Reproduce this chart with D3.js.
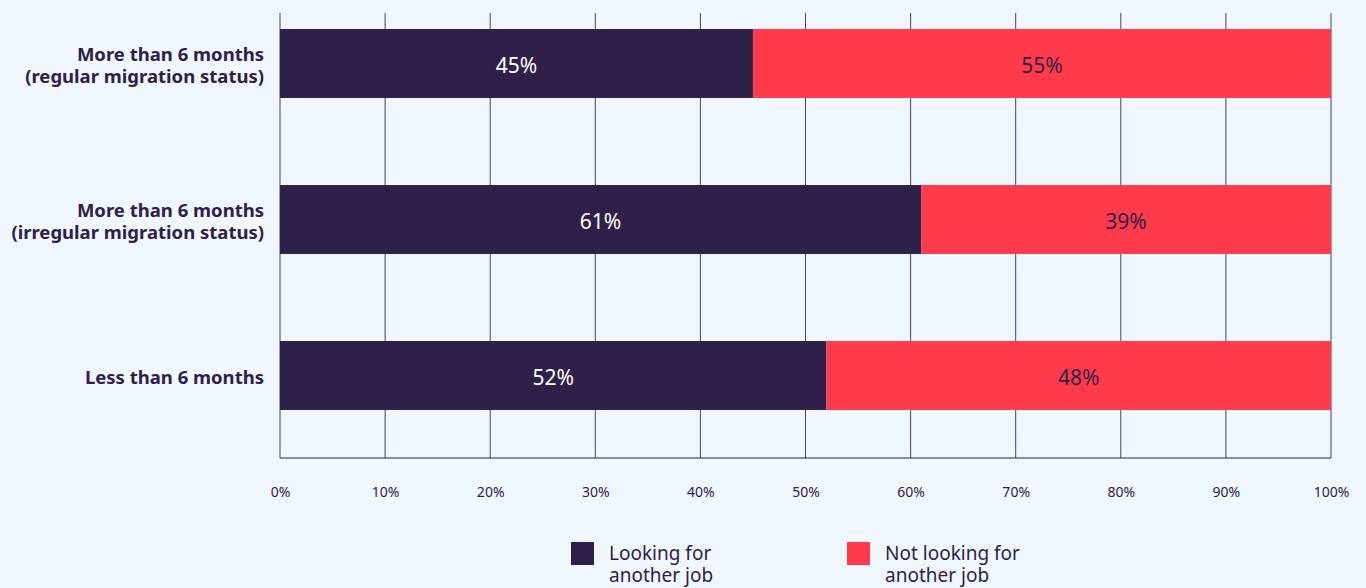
<!DOCTYPE html>
<html>
<head>
<meta charset="utf-8">
<script src="https://cdn.jsdelivr.net/npm/d3@7"></script>
<style>
  html, body { margin: 0; padding: 0; background: #f0f7fe; }
  svg { display: block; font-family: "Noto Sans", sans-serif; }
</style>
</head>
<body>
<svg id="chart" width="1366" height="588"></svg>
<script>
// Duration of stay groups, top to bottom
const categories = [
  ["More than 6 months", "(regular migration status)"],
  ["More than 6 months", "(irregular migration status)"],
  ["Less than 6 months"]
];
const lookingShare = [45, 61, 52];
const notLookingShare = [55, 39, 48];
const seriesNames = [["Looking for", "another job"], ["Not looking for", "another job"]];
const tickValues = [0, 10, 20, 30, 40, 50, 60, 70, 80, 90, 100];

const colors = ["#2f2049", "#ff3b4b"];
const labelColors = ["#ffffff", "#2f2049"];
const ink = "#2f2049";

const svg = d3.select("#chart");
const left = 280, right = 1331, gridTop = 13, gridBottom = 458;

const x = d3.scaleLinear().domain([0, 100]).range([left, right]);
const y = d3.scaleBand()
  .domain(d3.range(categories.length))
  .range([-14.5, 453.5])
  .paddingInner(0.558)
  .paddingOuter(0.279);

// vertical grid lines
svg.append("g").selectAll("line")
  .data(tickValues)
  .join("line")
  .attr("x1", d => x(d)).attr("x2", d => x(d))
  .attr("y1", gridTop).attr("y2", gridBottom)
  .attr("stroke", ink).attr("stroke-opacity", 0.85).attr("stroke-width", 1);

// baseline
svg.append("line")
  .attr("x1", left).attr("x2", right)
  .attr("y1", gridBottom).attr("y2", gridBottom)
  .attr("stroke", ink).attr("stroke-width", 1.2);

// x axis tick labels
const xAxis = d3.axisBottom(x).tickValues(tickValues).tickFormat(d => d + "%").tickSize(0).tickPadding(0);
const gx = svg.append("g").attr("transform", `translate(0,${gridBottom + 39})`).call(xAxis);
gx.select(".domain").remove();
gx.selectAll("text").attr("font-size", 14).attr("fill", ink)
  .attr("font-family", "'Noto Sans', sans-serif").attr("dy", 0);

// stacked bars
const rows = categories.map((c, i) => {
  const a = lookingShare[i], b = notLookingShare[i];
  return [
    { i, s: 0, x0: 0, x1: a, v: a },
    { i, s: 1, x0: a, x1: a + b, v: b }
  ];
}).flat();

svg.append("g").selectAll("rect")
  .data(rows)
  .join("rect")
  .attr("x", d => x(d.x0))
  .attr("width", d => x(d.x1) - x(d.x0))
  .attr("y", d => y(d.i))
  .attr("height", y.bandwidth())
  .attr("fill", d => colors[d.s]);

svg.append("g").selectAll("text")
  .data(rows)
  .join("text")
  .attr("x", d => (x(d.x0) + x(d.x1)) / 2)
  .attr("y", d => y(d.i) + y.bandwidth() / 2 + 2)
  .attr("dy", "0.35em")
  .attr("text-anchor", "middle")
  .attr("font-size", 21)
  .attr("fill", d => labelColors[d.s])
  .text(d => d.v + "%");

// category labels
const catG = svg.append("g").selectAll("text")
  .data(categories)
  .join("text")
  .attr("text-anchor", "end")
  .attr("font-size", 18.5)
  .attr("font-weight", "bold")
  .attr("fill", ink)
  .attr("transform", (d, i) => `translate(${left - 16},${y(i) + y.bandwidth() / 2 + 2.5})`);
catG.each(function(lines) {
  const t = d3.select(this);
  const lh = 22;
  const start = -(lines.length - 1) * lh / 2;
  lines.forEach((ln, k) => {
    t.append("tspan").attr("x", 0).attr("y", start + k * lh).attr("dy", "0.35em").text(ln);
  });
});

// legend
const legendX = [571, 847];
const legend = svg.append("g").selectAll("g")
  .data(seriesNames)
  .join("g")
  .attr("transform", (d, i) => `translate(${legendX[i]},542)`);
legend.append("rect").attr("width", 23).attr("height", 23).attr("fill", (d, i) => colors[i]);
legend.append("text")
  .attr("font-size", 19).attr("fill", ink)
  .each(function(lines) {
    const t = d3.select(this);
    lines.forEach((ln, k) => {
      t.append("tspan").attr("x", 38).attr("y", 18 + k * 22).text(ln);
    });
  });
</script>
</body>
</html>
